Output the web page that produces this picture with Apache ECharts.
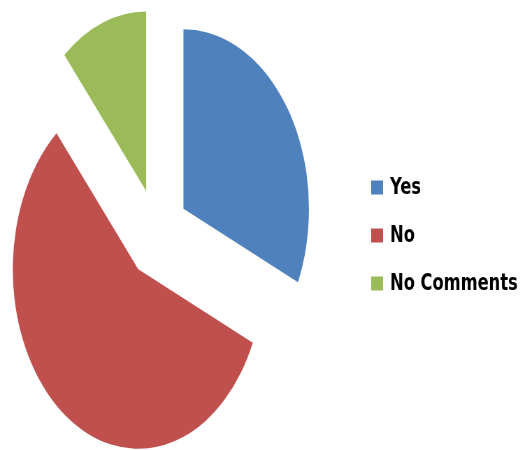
<!DOCTYPE html>
<html>
<head>
<meta charset="utf-8">
<script src="https://cdn.jsdelivr.net/npm/echarts@6/dist/echarts.min.js"></script>
<style>
  html, body { margin: 0; padding: 0; overflow: hidden; background: #ffffff; width: 531px; height: 450px; }
  #chart { width: 760px; height: 450px; transform: scaleX(0.699); transform-origin: 0 0; }
</style>
</head>
<body>
<div id="chart"></div>
<script>
const categories = ['Yes', 'No', 'No Comments'];
const values = [31.7, 57.0, 11.3];
const colors = ['#4F81BD', '#C0504D', '#9BBB59'];

const chart = echarts.init(document.getElementById('chart'), null, { renderer: 'canvas' });
chart.setOption({
  animation: false,
  backgroundColor: '#ffffff',
  legend: {
    orient: 'vertical',
    left: 526,
    top: 171,
    padding: 5,
    itemWidth: 17,
    itemHeight: 14,
    itemGap: 25,
    icon: 'rect',
    selectedMode: false,
    data: categories,
    textStyle: {
      fontFamily: 'DejaVu Sans',
      fontWeight: 'bold',
      fontSize: 23.3,
      color: '#000000',
      padding: [0, 0, 0, 5]
    }
  },
  series: [{
    type: 'pie',
    center: [224.7, 233.3],
    radius: 179.5,
    startAngle: 90,
    clockwise: true,
    selectedMode: 'multiple',
    selectedOffset: 45,
    silent: true,
    label: { show: false },
    labelLine: { show: false },
    emphasis: { disabled: true },
    itemStyle: { borderWidth: 0 },
    data: categories.map((c, i) => ({
      name: c,
      value: values[i],
      selected: true,
      itemStyle: { color: colors[i], borderWidth: 0 }
    }))
  }]
});
</script>
</body>
</html>
